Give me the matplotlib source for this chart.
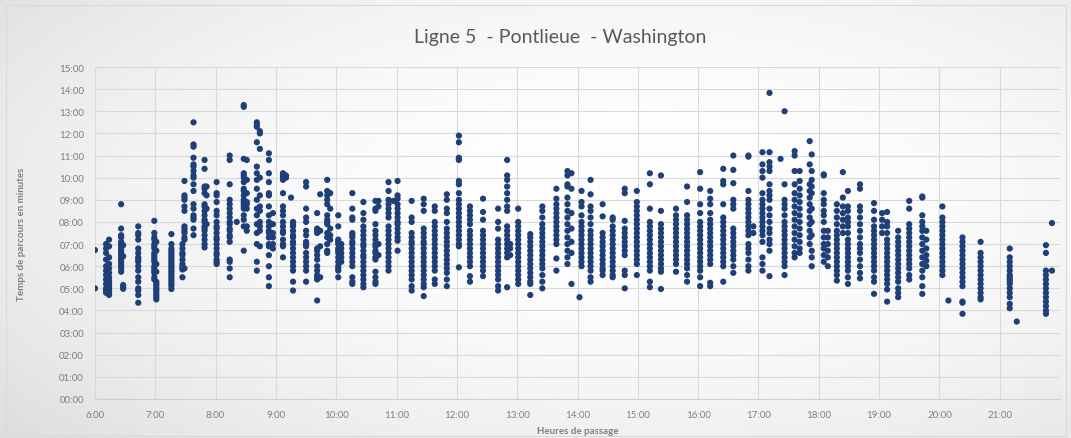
import matplotlib
matplotlib.use("Agg")
import matplotlib.pyplot as plt
import numpy as np
from matplotlib.patches import Rectangle

# ---------------- data ----------------
title = "Ligne 5  - Pontlieue  - Washington"
x_label = "Heures de passage"
y_label = "Temps de parcours en minutes"
x_tick_hours = list(range(6, 22))
x_tick_labels = [f"{h}:00" for h in x_tick_hours]
y_tick_values = list(range(0, 16))
y_tick_labels = [f"{v:02d}:00" for v in y_tick_values]

passage_times = [
    "6:00", "6:11", "6:14", "6:26", "6:28", "6:43", "6:59", "7:01", "7:16", "7:27",
    "7:29", "7:38", "7:49", "7:51", "8:01", "8:14", "8:21", "8:28", "8:31", "8:41",
    "8:44", "8:53", "8:57", "9:07", "9:10", "9:15", "9:17", "9:30", "9:41", "9:44",
    "9:51", "9:54", "10:02", "10:05", "10:16", "10:27", "10:39", "10:42", "10:52", "10:57",
    "11:01", "11:15", "11:27", "11:38", "11:50", "12:02", "12:13", "12:26", "12:41", "12:50",
    "12:53", "13:01", "13:13", "13:25", "13:39", "13:50", "13:54", "14:02", "14:04", "14:13",
    "14:25", "14:35", "14:47", "14:59", "15:12", "15:23", "15:38", "15:49", "16:02", "16:12",
    "16:25", "16:35", "16:50", "16:55", "17:04", "17:11", "17:22", "17:26", "17:36", "17:41",
    "17:51", "17:53", "18:05", "18:09", "18:18", "18:24", "18:29", "18:41", "18:55", "19:03",
    "19:08", "19:19", "19:30", "19:43", "19:47", "20:03", "20:09", "20:23", "20:41", "21:10",
    "21:17", "21:46", "21:52",
]

travel_minutes = [
    [6.73, 5.0],
    [7.0, 6.8, 6.6, 6.3, 6.0, 5.8, 5.6, 5.4, 5.2, 5.0, 4.9, 4.8],
    [7.2, 6.9, 6.4, 6.1, 5.9, 5.7, 5.5, 5.35, 5.25, 5.15, 5.05, 4.95, 4.85, 4.75, 4.7],
    [8.8, 7.7, 7.4, 7.3, 7.1, 7.0, 6.9, 6.8, 6.7, 6.6, 6.5, 6.4, 6.3, 6.2, 6.1, 6.0, 5.9, 5.75],
    [5.15, 5.05, 4.98, 6.95, 6.45],
    [7.8, 7.5, 7.4, 7.2, 6.8, 6.6, 6.4, 6.3, 6.2, 6.0, 5.8, 5.5, 5.3, 5.0, 4.9, 4.7, 4.35],
    [8.05, 7.5, 7.3, 7.2, 7.0, 6.9, 6.8, 6.6, 6.5, 6.4, 6.3, 6.2, 6.0, 5.9, 5.8, 5.7, 5.5, 5.4],
    [5.3, 5.2, 5.1, 5.0, 4.9, 4.8, 4.7, 4.6, 4.5, 5.75, 6.1, 6.7, 7.1],
    [7.45, 7.0, 6.8, 6.7, 6.6, 6.5, 6.4, 6.3, 6.2, 6.1, 6.0, 5.9, 5.8, 5.7, 5.6, 5.5, 5.4, 5.3, 5.2, 5.1, 4.97],
    [7.0, 6.8, 6.6, 6.5, 6.3, 6.1, 6.0, 5.9, 5.85, 5.5],
    [9.85, 9.2, 9.1, 9.0, 8.7, 8.5, 7.8, 7.7, 7.6, 7.5, 7.3, 7.2, 5.9],
    [12.5, 11.5, 11.4, 10.9, 10.6, 10.5, 10.3, 10.1, 10.0, 9.7, 9.4, 8.8, 8.6, 8.3, 8.2, 8.1, 7.7, 7.4],
    [10.8, 10.4, 9.6, 9.5, 9.3, 8.8, 8.7, 8.5, 8.3, 8.1, 8.0, 7.8, 7.7, 7.6, 7.4, 7.2, 7.0, 6.85],
    [9.6, 9.2, 8.6, 7.9],
    [9.8, 9.3, 9.2, 8.9, 8.5, 8.3, 8.0, 7.8, 7.7, 7.5, 7.3, 7.2, 7.0, 6.8, 6.6, 6.5, 6.3, 6.2, 6.1],
    [11.0, 10.8, 9.7, 9.0, 8.8, 8.6, 8.4, 8.2, 8.0, 7.9, 7.7, 7.6, 7.4, 7.3, 7.1, 6.3, 6.2, 5.9, 5.5],
    [8.0],
    [13.2, 13.28, 10.85, 10.2, 10.1, 10.0, 9.8, 9.5, 9.4, 9.2, 9.0, 8.9, 8.8, 8.7, 8.6, 8.3, 8.1, 7.8, 6.7],
    [10.8, 9.9, 9.3, 8.9, 8.8, 8.6, 7.8, 7.6],
    [12.5, 12.4, 12.3, 11.6, 10.5, 10.2, 9.9, 9.5, 9.0, 8.6, 8.3, 7.9, 7.5, 7.0, 6.2, 5.8],
    [12.1, 12.0, 11.3, 10.0, 9.2, 8.7, 8.5, 8.0, 7.8, 7.6, 6.9],
    [11.1, 10.8, 10.2, 9.8, 9.3, 9.2, 8.7, 8.3, 8.0, 7.8, 7.6, 7.5, 7.3, 7.0, 6.9, 6.5, 6.0, 5.5, 5.1],
    [8.4, 7.9, 7.5, 7.3, 7.0, 6.8],
    [10.2, 10.1, 10.0, 9.9, 9.3, 8.7, 8.5, 8.3, 8.0, 7.8, 7.6, 7.5, 7.2, 7.0, 6.9, 6.4],
    [10.1, 10.0],
    [9.1],
    [8.0, 7.8, 7.6, 7.3, 7.1, 7.0, 6.8, 6.6, 6.4, 6.2, 6.0, 5.8, 5.3, 4.9, 7.9, 7.4],
    [9.8, 9.6, 8.6, 8.2, 8.0, 7.6, 7.4, 7.1, 7.0, 6.9, 6.6, 6.4, 6.2, 6.0, 5.8, 5.3],
    [8.4, 7.7, 7.6, 7.5, 6.8, 6.7, 6.5, 6.3, 6.0, 5.8, 5.6, 5.5, 5.4, 4.45],
    [9.25, 7.6, 6.9, 5.5],
    [9.9, 9.4, 9.2, 9.0, 8.8, 8.3, 8.1, 8.0, 7.9, 7.5, 7.3, 7.0, 6.7, 6.6],
    [9.3, 8.6, 7.7, 7.4, 7.2],
    [8.3, 7.8, 7.2, 7.1, 7.0, 6.8, 6.7, 6.6, 6.4, 6.2, 6.0, 5.9, 5.8, 5.5],
    [7.0, 6.8, 6.6, 6.4, 6.2],
    [9.3, 8.6, 8.2, 8.1, 7.5, 7.4, 7.3, 7.1, 7.0, 6.8, 6.6, 6.4, 6.2, 6.0, 5.5, 5.3, 5.2],
    [8.9, 8.4, 8.1, 7.8, 7.6, 7.4, 7.2, 7.0, 6.9, 6.7, 6.5, 6.4, 6.2, 6.0, 5.8, 5.6, 5.4, 5.2, 5.05],
    [8.95, 8.6, 8.5, 7.9, 7.6, 7.4, 7.2, 7.0, 6.9, 6.7, 6.6, 6.4, 6.3, 5.75, 5.5, 5.3, 5.2],
    [8.95, 8.7, 7.0, 6.5],
    [9.8, 9.4, 9.0, 8.8, 8.6, 8.4, 8.2, 7.8, 7.6, 7.4, 7.2, 7.0, 6.8, 6.6, 6.4, 6.2, 6.0, 5.8],
    [8.95],
    [9.85, 9.2, 9.05, 8.8, 8.6, 8.4, 8.2, 8.0, 7.9, 7.7, 7.5, 7.3, 7.15, 6.7],
    [8.95, 8.2, 8.0, 7.5, 7.3, 7.1, 7.0, 6.8, 6.6, 6.4, 6.2, 6.0, 5.8, 5.6, 5.4, 5.1, 4.9],
    [9.05, 8.8, 8.5, 7.7, 7.5, 7.3, 7.1, 7.0, 6.8, 6.6, 6.4, 6.2, 6.0, 5.8, 5.6, 5.4, 5.2, 5.05, 4.65],
    [8.7, 8.5, 8.0, 7.8, 7.6, 7.4, 7.2, 7.0, 6.8, 6.6, 6.4, 6.2, 6.0, 5.8, 5.4, 5.2],
    [9.25, 9.0, 8.6, 8.4, 8.0, 7.7, 7.5, 7.3, 7.1, 6.9, 6.7, 6.5, 6.3, 6.1, 5.9, 5.7, 5.4, 5.1],
    [11.9, 11.6, 10.9, 10.85, 10.8, 9.85, 9.7, 9.3, 9.0, 8.8, 8.6, 8.4, 8.2, 8.0, 7.8, 7.6, 7.4, 7.2, 7.0, 6.9, 5.95],
    [8.7, 8.5, 8.3, 8.1, 7.9, 7.6, 7.4, 7.2, 7.0, 6.8, 6.6, 6.4, 6.2, 6.0, 5.55, 5.3],
    [9.05, 8.45, 8.1, 7.6, 7.4, 7.2, 7.0, 6.8, 6.6, 6.4, 6.2, 6.0, 5.8, 5.55],
    [8.6, 8.0, 7.7, 7.2, 7.0, 6.8, 6.6, 6.4, 6.2, 6.0, 5.8, 5.6, 5.4, 5.1, 4.9],
    [10.8, 10.1, 9.9, 9.6, 9.3, 9.0, 8.7, 8.5, 7.8, 7.6, 7.4, 7.2, 7.0, 6.8, 6.6, 6.4, 5.05],
    [7.0, 6.8, 6.5],
    [8.6, 8.0, 7.8, 7.6, 7.4, 7.2, 7.0, 6.8, 6.6, 6.4, 6.2, 6.0, 5.8, 5.6, 5.4, 5.2],
    [7.45, 7.3, 7.1, 6.9, 6.7, 6.5, 6.3, 6.1, 5.9, 5.7, 5.5, 5.3, 5.2, 4.7],
    [8.7, 8.5, 8.2, 7.9, 7.7, 7.5, 7.3, 7.1, 6.9, 6.7, 6.5, 6.3, 6.1, 5.9, 5.6, 5.3, 5.0],
    [9.5, 9.05, 8.8, 8.6, 8.4, 8.2, 8.0, 7.8, 7.6, 7.4, 7.2, 7.0, 6.35, 5.8],
    [10.3, 10.1, 9.7, 9.6, 9.1, 8.8, 8.5, 8.2, 7.9, 7.6, 7.3, 7.0, 6.7, 6.4, 6.1],
    [10.2, 9.5, 8.4, 7.7, 7.1, 6.6, 5.2],
    [4.6],
    [9.4, 8.9, 8.7, 8.3, 8.0, 7.8, 7.6, 7.4, 7.2, 7.0, 6.8, 6.6, 6.4, 6.2, 6.0],
    [9.9, 9.25, 8.7, 8.5, 8.2, 7.9, 7.6, 7.4, 7.2, 7.0, 6.8, 6.6, 6.4, 6.2, 6.0, 5.8, 5.5, 5.3],
    [8.8, 8.25, 7.5, 7.3, 7.1, 6.9, 6.7, 6.5, 6.3, 6.1, 5.9, 5.8, 5.6],
    [8.2, 8.1, 7.8, 7.6, 7.4, 7.2, 7.0, 6.8, 6.6, 6.4, 6.2, 6.0, 5.8, 5.6, 5.5],
    [9.5, 9.3, 8.05, 7.7, 7.5, 7.3, 7.1, 6.9, 6.7, 6.5, 5.8, 5.6, 5.0],
    [9.4, 8.9, 8.7, 8.5, 8.3, 8.1, 7.9, 7.7, 7.5, 7.3, 7.1, 6.9, 6.7, 6.5, 6.3, 6.1, 5.6],
    [10.2, 9.7, 8.6, 8.0, 7.8, 7.6, 7.4, 7.2, 7.0, 6.8, 6.6, 6.4, 6.2, 6.0, 5.8, 5.3, 5.05],
    [10.1, 8.5, 7.9, 7.7, 7.5, 7.3, 7.1, 6.9, 6.7, 6.5, 6.3, 6.1, 5.9, 5.75, 4.97],
    [8.6, 8.3, 8.1, 7.9, 7.7, 7.5, 7.3, 7.1, 6.9, 6.7, 6.5, 6.3, 6.1, 5.75],
    [9.6, 8.9, 8.3, 8.1, 7.9, 7.7, 7.5, 7.3, 7.1, 6.9, 6.7, 6.5, 6.3, 6.1, 5.9, 5.6, 5.3],
    [10.25, 9.5, 8.8, 8.4, 8.0, 7.8, 7.6, 7.4, 7.2, 7.0, 6.8, 6.6, 6.4, 6.2, 6.0, 5.8, 5.5, 5.1],
    [9.4, 9.05, 8.8, 8.4, 8.1, 7.9, 7.7, 7.5, 7.3, 7.1, 6.9, 6.7, 6.5, 6.3, 6.1, 5.25, 5.1],
    [10.4, 9.85, 9.7, 8.8, 8.2, 8.0, 7.8, 7.6, 7.4, 7.2, 7.0, 6.8, 6.6, 6.4, 6.2, 6.0, 5.3],
    [11.0, 10.35, 9.75, 9.0, 8.8, 8.6, 7.7, 7.5, 7.3, 7.1, 6.9, 6.7, 6.5, 6.3, 6.0, 5.7],
    [11.0, 10.95, 9.4, 9.0, 8.8, 8.6, 8.4, 8.2, 8.0, 7.8, 7.6, 7.4, 7.0, 6.8, 6.6, 6.3, 6.0, 5.8],
    [7.8, 7.5],
    [11.15, 10.6, 10.3, 10.0, 9.3, 9.0, 8.8, 8.6, 8.4, 8.2, 8.0, 7.8, 7.6, 7.4, 7.1, 6.4, 6.1, 5.8],
    [13.83, 11.15, 10.7, 10.5, 10.3, 9.7, 9.4, 9.2, 9.0, 8.6, 8.3, 8.0, 7.7, 7.5, 7.2, 7.0, 6.7, 5.55],
    [10.85],
    [13.0, 9.7, 9.0, 8.8, 8.6, 8.3, 8.0, 7.8, 7.6, 7.4, 7.2, 7.0, 6.8, 6.6, 6.4, 6.2, 6.0, 5.6],
    [11.2, 11.0, 10.3, 9.7, 9.3, 9.0, 8.7, 8.4, 8.1, 7.8, 7.5, 7.2, 6.9, 6.6, 6.4],
    [10.3, 9.85, 9.5, 9.2, 8.9, 8.6, 8.3, 8.0, 7.7, 7.4, 7.1, 6.8, 6.6],
    [11.65, 10.6, 9.7, 9.4, 9.1, 8.8, 8.5, 8.2, 7.9, 7.6, 7.3, 7.0],
    [11.05, 10.3, 9.9, 9.6, 9.3, 8.6, 8.0, 7.4, 6.7, 6.4, 6.0],
    [10.15, 10.1, 9.3, 9.0, 8.8, 8.5, 8.3, 8.0, 7.6, 7.3, 7.0, 6.8, 6.5, 6.2],
    [7.6, 7.3, 7.0, 6.7, 6.4, 6.0],
    [8.8, 8.5, 8.2, 7.9, 7.6, 7.4, 7.2, 7.0, 6.8, 6.6, 6.4, 6.2, 6.0, 5.8, 5.6, 5.35],
    [10.25, 9.1, 8.7, 8.4, 8.1, 7.8, 7.5],
    [9.4, 8.7, 8.5, 8.2, 8.0, 7.8, 7.5, 7.2, 7.0, 6.8, 6.6, 6.4, 6.2, 6.0, 5.8, 5.5, 5.2],
    [9.7, 9.5, 8.7, 8.5, 8.2, 7.9, 7.6, 7.3, 7.0, 6.8, 6.6, 6.3, 6.0, 5.7, 5.45],
    [8.85, 8.5, 8.1, 7.8, 7.6, 7.4, 7.2, 7.0, 6.8, 6.6, 6.4, 6.2, 6.0, 5.8, 5.5, 5.3, 4.75],
    [8.4, 8.1, 7.8, 7.5],
    [8.45, 8.0, 7.8, 7.5, 7.2, 7.0, 6.8, 6.6, 6.4, 6.2, 6.0, 5.8, 5.6, 5.4, 5.2, 4.95, 4.4],
    [7.6, 7.3, 7.1, 6.9, 6.7, 6.5, 6.3, 6.1, 5.9, 5.7, 5.5, 5.3, 5.0, 4.8, 4.6],
    [8.95, 8.6, 7.9, 7.7, 7.5, 7.3, 7.1, 6.9, 6.7, 6.5, 6.3, 6.1, 5.9, 5.6, 5.4],
    [9.15, 9.1, 8.3, 8.0, 7.8, 7.6, 7.3, 7.0, 6.7, 6.4, 6.1, 5.8, 5.5, 5.1, 4.75],
    [7.6, 7.2, 6.8, 6.5, 6.25, 6.0],
    [8.7, 8.2, 8.0, 7.8, 7.6, 7.4, 7.2, 7.0, 6.8, 6.6, 6.4, 6.2, 6.0, 5.8, 5.6],
    [4.45],
    [7.3, 7.1, 6.9, 6.7, 6.5, 6.3, 6.1, 5.9, 5.7, 5.5, 5.3, 5.1, 4.4, 4.35, 3.85],
    [7.1, 6.6, 6.4, 6.2, 6.0, 5.8, 5.6, 5.4, 5.2, 5.0, 4.8, 4.6, 4.5],
    [6.8, 6.4, 6.2, 6.0, 5.8, 5.6, 5.5, 5.4, 5.3, 5.2, 5.0, 4.8, 4.6, 4.3, 4.1],
    [3.5],
    [6.95, 6.6, 5.8, 5.6, 5.4, 5.2, 5.0, 4.8, 4.6, 4.4, 4.2, 4.0, 3.85],
    [7.95, 5.8],
]

# ---------------- figure ----------------
W, H, DPI = 1071, 439, 100
fig = plt.figure(figsize=(W / DPI, H / DPI), dpi=DPI)
fig.patch.set_facecolor("white")

# radial gradient background like the Excel chart area
bg = fig.add_axes([0, 0, 1, 1], zorder=-10)
gx, gy = np.meshgrid(np.linspace(0, 1, 400), np.linspace(0, 1, 200))
r = np.sqrt(((gx - 0.6) / 0.75) ** 2 + ((gy - 0.55) / 0.8) ** 2)
shade = 1.0 - 0.12 * np.clip(r, 0, 1.2) ** 2
bg.imshow(np.dstack([shade, shade, shade]), extent=[0, 1, 0, 1], aspect="auto",
          origin="lower", interpolation="bicubic")
bg.set_axis_off()
fig.patches.append(Rectangle((6 / W, 1 - 437 / H), 1060 / W, 431 / H,
                             transform=fig.transFigure, fill=False,
                             edgecolor="#d9d9d9", lw=0.8))

ax = fig.add_axes([95 / W, 1 - 400 / H, 965 / W, 332 / H])
ax.set_facecolor("none")

xs, ys = [], []
for t, vals in zip(passage_times, travel_minutes):
    hh, mm = t.split(":")
    for v in vals:
        xs.append(int(hh) + int(mm) / 60)
        ys.append(v)
ax.scatter(xs, ys, s=20, color="#1F3F78", edgecolors="none", zorder=3)

ax.set_xlim(6, 22)
ax.set_ylim(0, 15)
ax.set_xticks(x_tick_hours + [22])
ax.set_xticklabels(x_tick_labels + [""])
ax.set_yticks(y_tick_values)
ax.set_yticklabels(y_tick_labels)
ax.grid(True, color="#d9d9d9", lw=0.8)
ax.set_axisbelow(True)
for s in ["top", "right", "left"]:
    ax.spines[s].set_visible(False)
ax.spines["bottom"].set_color("#d0d0d0")
ax.tick_params(length=0, labelsize=7, labelcolor="#7f7f7f", pad=8)
for lab in ax.get_xticklabels() + ax.get_yticklabels():
    lab.set_fontfamily("Lato")

ax.set_xlabel(x_label, fontsize=7, color="#7f7f7f", fontweight="bold",
              family="Lato", labelpad=5)
ax.set_ylabel(y_label, fontsize=7, color="#7f7f7f", fontweight="bold",
              family="Lato", labelpad=24)
fig.text(0.523, 1 - 38 / H, title, ha="center", va="center", fontsize=14,
         color="#595959", family="Lato")

fig.savefig("out.png", dpi=DPI)
